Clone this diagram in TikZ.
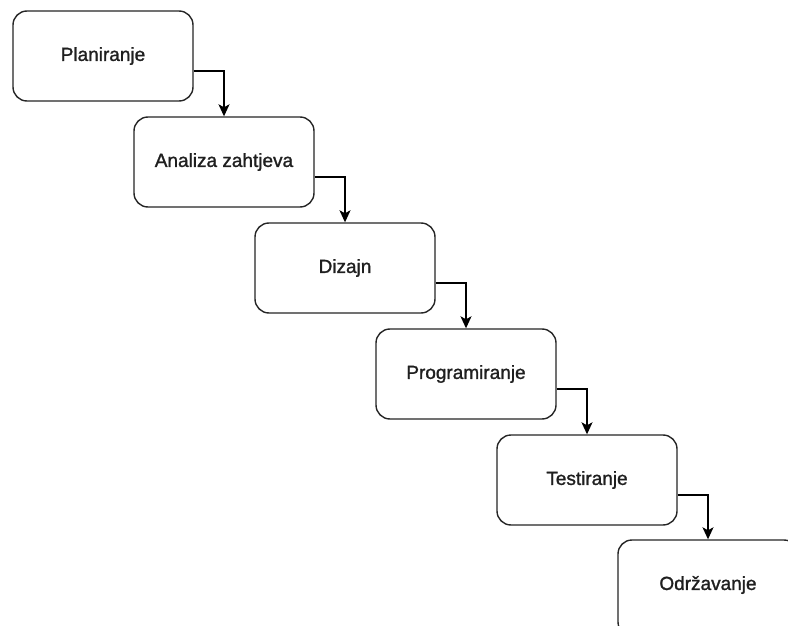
\documentclass[tikz,border=0pt]{standalone}
\usepackage{fontspec}
\setmainfont{Liberation Sans}
\newfontfamily\labelfont[FakeBold=1.3]{Liberation Sans}
\usetikzlibrary{arrows.meta}
\begin{document}
\begin{tikzpicture}[x=1pt,y=-1pt,
  stagebox/.style={draw=black!85, line width=1.4pt, rounded corners=14pt,
    minimum width=180pt, minimum height=90pt, inner sep=0pt, fill=white,
    text=black!88, font=\labelfont\fontsize{19}{22}\selectfont},
  flowarr/.style={draw=black, line width=1.4pt,
    -{Stealth[length=12pt,width=11pt,inset=3pt]}}]
\useasboundingbox (0,0) rectangle (788,626);
\clip (0,0) rectangle (788,626);
\fill[white] (0,0) rectangle (788,626);
\node[stagebox] (b1) at (103,56) {Planiranje};
\node[stagebox] (b2) at (224,162) {Analiza zahtjeva};
\node[stagebox] (b3) at (345,268) {Dizajn};
\node[stagebox] (b4) at (466,374) {Programiranje};
\node[stagebox] (b5) at (587,480) {Testiranje};
\node[stagebox, minimum height=96pt] (b6) at (708,588) {};
\node[text=black!88, font=\labelfont\fontsize{19}{22}\selectfont] (t6) at (708,585) {Održavanje};
\draw[flowarr] ([yshift=-15pt]b1.east) -| (b2.north);
\draw[flowarr] ([yshift=-15pt]b2.east) -| (b3.north);
\draw[flowarr] ([yshift=-15pt]b3.east) -| (b4.north);
\draw[flowarr] ([yshift=-15pt]b4.east) -| (b5.north);
\draw[flowarr] ([yshift=-15pt]b5.east) -| (b6.north);
\end{tikzpicture}
\end{document}
